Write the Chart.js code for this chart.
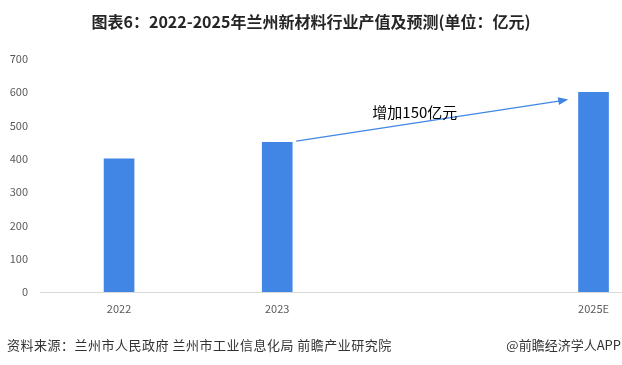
<!DOCTYPE html>
<html>
<head>
<meta charset="utf-8">
<script src="https://cdn.jsdelivr.net/npm/chart.js@4/dist/chart.umd.min.js"></script>
<style>
  html, body { margin: 0; padding: 0; background: #fff; }
  #wrap { width: 622px; height: 365px; }
</style>
</head>
<body>
<div id="wrap"><canvas id="outputChart" width="622" height="365"></canvas></div>
<script>
// data
const years = [2022, 2023, 2025];
const yearLabels = ['2022', '2023', '2025E'];
const outputValues = [400, 450, 600];
const yTicks = [0, 100, 200, 300, 400, 500, 600, 700];

const titleText = '图表6：2022-2025年兰州新材料行业产值及预测(单位：亿元)';
const sourceText = '资料来源：兰州市人民政府 兰州市工业信息化局 前瞻产业研究院';
const brandText = '@前瞻经济学人APP';
const arrowText = '增加150亿元';

const barColor = '#4186e5';
const font = '"Noto Sans CJK SC", "Noto Sans", sans-serif';

// title, footer and the growth arrow
const decorations = {
    id: 'decorations',
    afterDraw(chart) {
        const ctx = chart.ctx;
        const xs = chart.scales.x, ys = chart.scales.y;
        ctx.save();

        ctx.fillStyle = '#262626';
        ctx.font = 'bold 16px ' + font;
        ctx.textBaseline = 'middle';
        ctx.textAlign = 'center';
        ctx.fillText(titleText, 311, 22);

        ctx.font = '13px ' + font;
        ctx.fillStyle = '#333';
        ctx.textAlign = 'left';
        ctx.letterSpacing = '0.5px';
        ctx.fillText(sourceText, 7, 345);
        ctx.letterSpacing = '0px';
        ctx.textAlign = 'right';
        ctx.fillText(brandText, 621, 345);

        // arrow from 2023 bar to 2025E bar
        const x1 = xs.getPixelForValue(2023.12), y1 = ys.getPixelForValue(453);
        const x2 = xs.getPixelForValue(2024.84), y2 = ys.getPixelForValue(578);
        const ang = Math.atan2(y2 - y1, x2 - x1);
        ctx.strokeStyle = barColor;
        ctx.fillStyle = barColor;
        ctx.lineWidth = 1.3;
        ctx.beginPath();
        ctx.moveTo(x1, y1);
        ctx.lineTo(x2 - 8 * Math.cos(ang), y2 - 8 * Math.sin(ang));
        ctx.stroke();
        ctx.beginPath();
        ctx.moveTo(x2, y2);
        ctx.lineTo(x2 - 10 * Math.cos(ang) + 4 * Math.sin(ang), y2 - 10 * Math.sin(ang) - 4 * Math.cos(ang));
        ctx.lineTo(x2 - 10 * Math.cos(ang) - 4 * Math.sin(ang), y2 - 10 * Math.sin(ang) + 4 * Math.cos(ang));
        ctx.closePath();
        ctx.fill();

        ctx.fillStyle = '#000';
        ctx.font = '15px ' + font;
        ctx.textAlign = 'center';
        ctx.fillText(arrowText, xs.getPixelForValue(2023.87), ys.getPixelForValue(540));
        ctx.restore();
    }
};

const outputChart = new Chart(document.getElementById('outputChart').getContext('2d'), {
    type: 'bar',
    data: {
        datasets: [{
            label: '产值',
            data: years.map((y, i) => ({ x: y, y: outputValues[i] })),
            backgroundColor: barColor,
            barThickness: 30
        }]
    },
    options: {
        responsive: false,
        animation: false,
        layout: { padding: { top: 59, right: 0, bottom: 43, left: 0 } },
        plugins: {
            legend: { display: false },
            tooltip: { enabled: false }
        },
        scales: {
            x: {
                type: 'linear',
                offset: false,
                min: 2021.5,
                max: 2025.18,
                afterBuildTicks(scale) { scale.ticks = years.map(v => ({ value: v })); },
                afterFit(scale) { scale.height = 30; },
                grid: { display: false, drawTicks: false },
                border: { display: true, color: '#d9d9d9', width: 1 },
                ticks: {
                    padding: 10,
                    color: '#595959',
                    font: { size: 11, family: font },
                    maxRotation: 0,
                    autoSkip: false,
                    callback: (v) => yearLabels[years.indexOf(v)]
                }
            },
            y: {
                min: 0,
                max: 700,
                afterBuildTicks(scale) { scale.ticks = yTicks.map(v => ({ value: v })); },
                afterFit(scale) { scale.width = 40; },
                grid: { display: false, drawTicks: false },
                border: { display: false },
                ticks: {
                    padding: 12,
                    color: '#595959',
                    font: { size: 11, family: font }
                }
            }
        }
    },
    plugins: [decorations]
});
</script>
</body>
</html>
